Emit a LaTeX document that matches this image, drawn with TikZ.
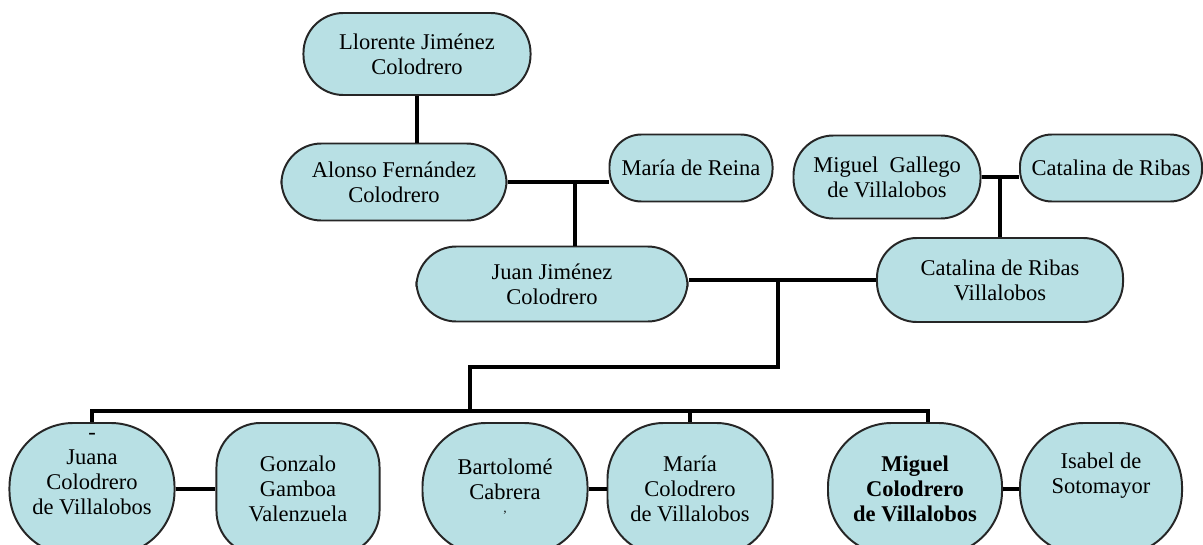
\documentclass[tikz,border=0pt]{standalone}
\usepackage{fontspec}
\setmainfont{Liberation Serif}
\definecolor{boxfill}{RGB}{184,224,228}
\begin{document}
\begin{tikzpicture}[x=0.025cm, y=-0.025cm,
    person/.style={draw=black!85, line width=1.4pt, fill=boxfill, align=center,
                   font=\fontsize{16}{17.8}\selectfont, inner sep=0pt},
    pill/.style={person, rounded corners=1cm},
    oval/.style={person, rounded corners=1.6cm, minimum height=3.3cm},
    link/.style={line width=3.5pt}]
      \useasboundingbox (0,0) rectangle (1203,545);
      %
      % top generations
      \node[pill, minimum width=5.675cm, minimum height=2.05cm] (llorente) at (417,54) {Llorente Jiménez\\Colodrero};
      \node[pill, minimum width=5.625cm, minimum height=1.925cm] (alonso) at (394,182) {Alonso Fernández\\Colodrero};
      \node[pill, rounded corners=0.8cm, minimum width=4.075cm, minimum height=1.675cm] (reina) at (691,168) {María de Reina};
      \node[pill, minimum width=4.675cm, minimum height=2.075cm] (gallego) at (887,177) {Miguel\ \ Gallego\\de Villalobos};
      \node[pill, rounded corners=0.8cm, minimum width=4.55cm, minimum height=1.675cm] (ribas) at (1111,168) {Catalina de Ribas};
      %
      \node[pill, minimum width=6.775cm, minimum height=1.875cm] (juan) at (552,284) {Juan Jiménez\\Colodrero};
      \node[pill, minimum width=6.15cm, minimum height=2.1cm] (catalina) at (1000,280) {Catalina de Ribas\\Villalobos};
      %
      % children and spouses
      \node[oval, minimum width=4.125cm] (juana) at (92,489) {-\\Juana\\Colodrero\\de Villalobos\\[-2pt]\strut};
      \node[oval, rounded corners=1.1cm, minimum width=4.075cm] (gonzalo) at (298,489) {Gonzalo\\Gamboa\\Valenzuela};
      \node[oval, minimum width=4.125cm] (bartolome) at (505,489) {Bartolomé\\Cabrera\\[-4pt]{\small '}};
      \node[oval, rounded corners=1.4cm, minimum width=4.125cm] (mariac) at (690,489) {María\\Colodrero\\de Villalobos};
      \node[oval, minimum width=4.35cm, font=\fontsize{16}{17.8}\selectfont\bfseries] (miguel) at (915,489) {Miguel\\Colodrero\\de Villalobos};
      \node[oval, minimum width=4.05cm] (isabel) at (1101,489) {Isabel de\\Sotomayor\\\strut};
      %
      % marriages and descent
      \draw[link] (llorente.south) -- (llorente.south |- alonso.north);
      \draw[link] (alonso.east) -- (alonso.east -| reina.west);
      \coordinate (m1) at (575,182);
      \draw[link] (m1) -- (m1 |- juan.north);
      %
      \draw[link] (gallego.east) -- (gallego.east -| ribas.west);
      \draw[link] (catalina.north) -- (catalina.north |- gallego.east);
      %
      \draw[link] (catalina.west) -- (catalina.west -| juan.east);
      \coordinate (m2) at (778,280);
      \coordinate (knee) at (778,367);
      \coordinate (bar) at (470,411);
      \draw[link] (m2) -- (knee) -| (bar);
      \draw[link] (juana.north) |- (bar) -| ([xshift=0.325cm]miguel.north);
      \draw[link] (mariac.north) -- (mariac.north |- bar);
      %
      \draw[link] (juana) -- (gonzalo);
      \draw[link] (bartolome) -- (mariac);
      \draw[link] (miguel) -- (isabel);
    \end{tikzpicture}
\end{document}
